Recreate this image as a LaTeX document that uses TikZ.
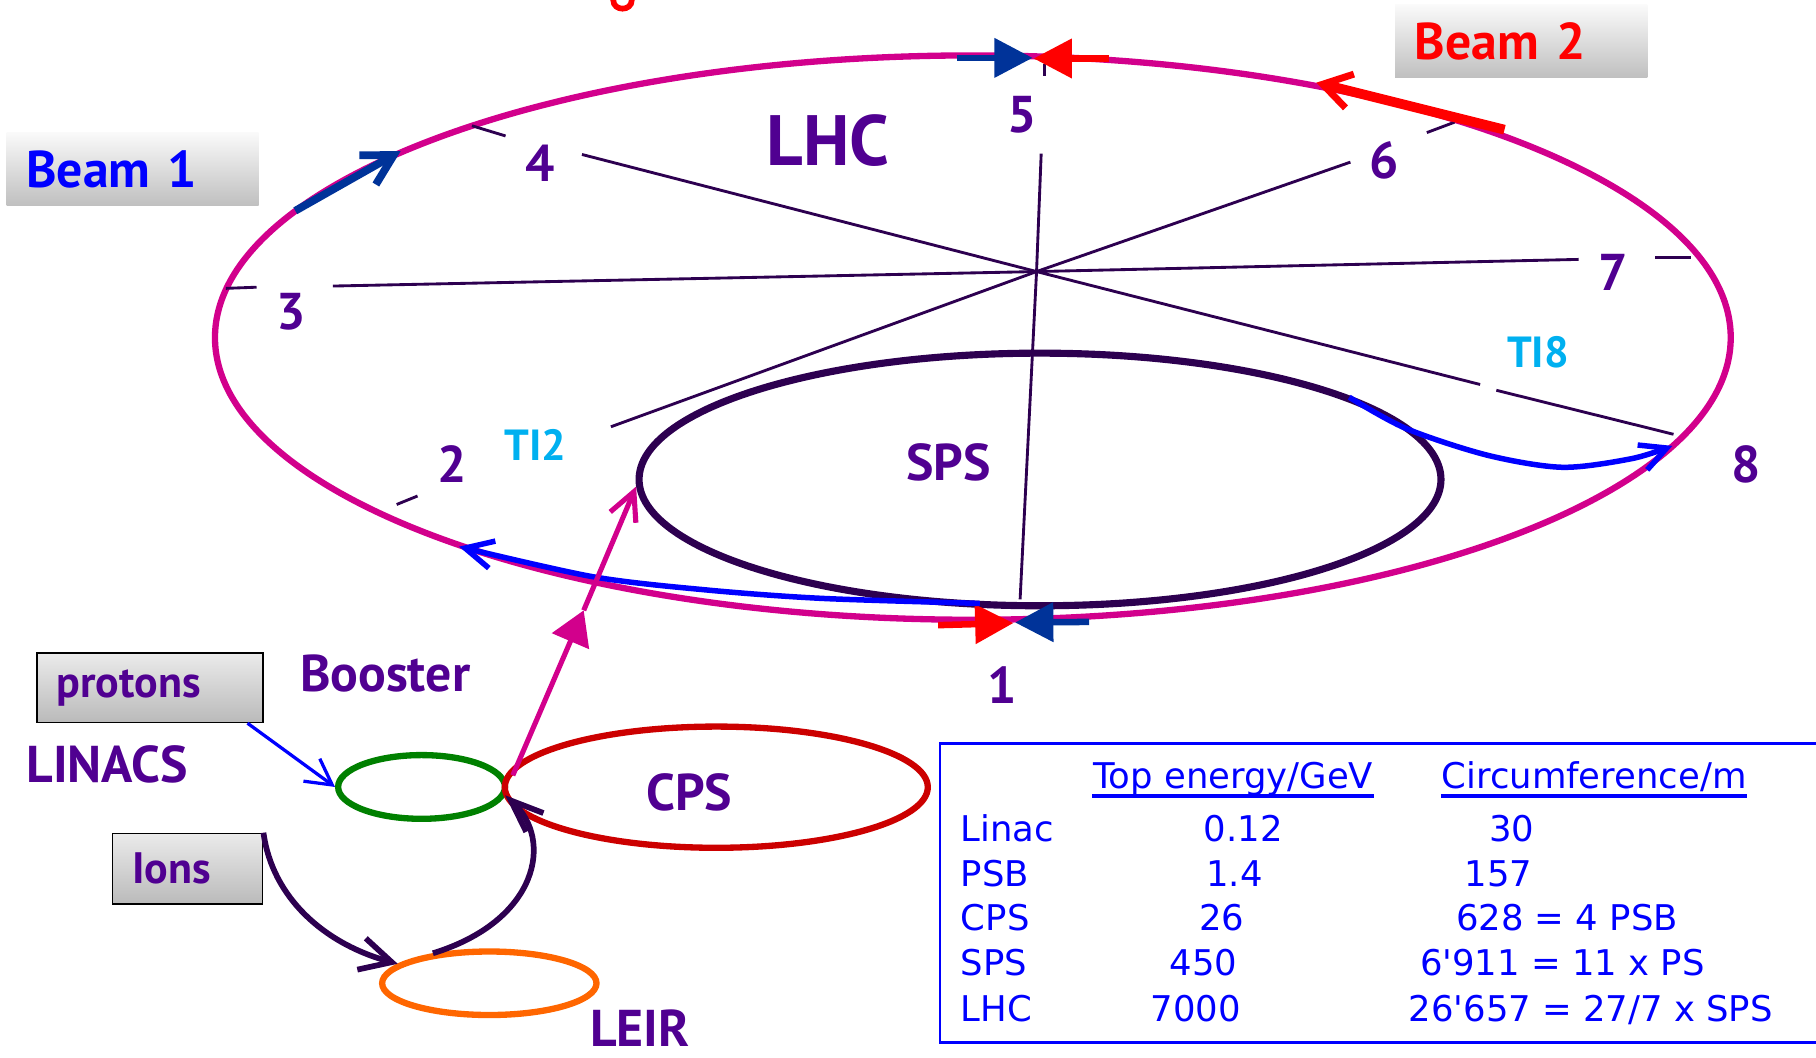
\documentclass[tikz,border=0pt]{standalone}
\usepackage{fontspec}
\setmainfont{PT Sans}
\newfontfamily\tabfont{DejaVu Sans}
\usetikzlibrary{arrows.meta,shapes.geometric}

\definecolor{lhcmag}{RGB}{210,0,140}
\definecolor{ringdark}{RGB}{45,0,80}
\definecolor{lblpurple}{RGB}{80,0,145}
\definecolor{beamblue}{RGB}{0,51,153}
\definecolor{tiblue}{RGB}{0,0,255}
\definecolor{ticyan}{RGB}{0,176,240}
\definecolor{boostgreen}{RGB}{0,128,0}
\definecolor{cpsred}{RGB}{204,0,0}
\definecolor{leirorange}{RGB}{255,102,0}

\tikzset{
  ring/.style={ellipse, draw, inner sep=0pt, line width=1.55pt},
  spoke/.style={draw=ringdark, line width=0.7pt},
  ptlabel/.style={text=lblpurple, inner sep=0pt, font=\bfseries\fontsize{12.7}{15}\selectfont},
  lhctext/.style={text=lblpurple, inner sep=0pt, font=\bfseries\fontsize{17.5}{20}\selectfont},
  tilabel/.style={text=ticyan, inner sep=0pt, font=\bfseries\fontsize{10.7}{13}\selectfont},
  beambox/.style={anchor=north west, align=left, inner xsep=0.17cm, inner ysep=0pt,
    top color=black!2, bottom color=black!25, font=\bfseries\fontsize{12.7}{15}\selectfont},
  srcbox/.style={anchor=north west, align=left, inner xsep=0.17cm, inner ysep=0pt,
    draw=black, line width=0.4pt, top color=black!8, bottom color=black!27,
    text=lblpurple, font=\bfseries\fontsize{10.8}{13}\selectfont},
  tabtext/.style={text=tiblue, inner sep=0pt, font=\tabfont\fontsize{8.7}{10}\selectfont},
  barb/.style={-{Straight Barb[length=2.4mm,width=2.4mm]}},
  tri/.style={-{Triangle[length=3.3mm,width=3.3mm]}, line width=1.6pt}
}

\begin{document}
\begin{tikzpicture}[x=0.01cm,y=-0.01cm]
  \useasboundingbox (0,0) rectangle (1568,913.5);

  % Title fragment at the top edge
  \draw [red, line width=1.4pt] (529.5,-6) -- (529.5,0) .. controls (529.5,10) and (545.5,10) .. (545.5,0) -- (545.5,-6);

  % Rings
  \node [ring, draw=lhcmag, minimum width=13.08cm, minimum height=4.87cm] (lhc) at (840,291.5) {};
  \node [ring, draw=ringdark, line width=1.75pt, minimum width=6.92cm, minimum height=2.18cm] (sps) at (898,414) {};
  \node [ring, draw=boostgreen, minimum width=1.44cm, minimum height=0.55cm] (booster) at (364,679.5) {};
  \node [ring, draw=cpsred, minimum width=3.65cm, minimum height=1.046cm] (cps) at (618.5,679.7) {};
  \node [ring, draw=leirorange, minimum width=1.85cm, minimum height=0.548cm] (leir) at (422.5,849) {};

  % Spokes from the hub to the eight points
  \coordinate (hub) at (895,234.5);
  \draw [spoke] (hub) -- (880.8,517.5);% point 1
  \draw [spoke] (hub) -- (527.5,368.5);% point 2
  \draw [spoke] (342.5,435.6) -- (360.5,428.3);%
  \draw [spoke] (hub) -- (287.5,247);% point 3
  \draw [spoke] (195,249) -- (221.5,248);%
  \draw [spoke] (hub) -- (502.5,133.4);% point 4
  \draw [spoke] (407.5,108.6) -- (436.5,117.4);%
  \draw [spoke] (hub) -- (899,132.6);% point 5
  \draw [spoke] (902,55) -- (902,66);%
  \draw [spoke] (hub) -- (1166,140);% point 6
  \draw [spoke] (1232,114.5) -- (1256,105.5);%
  \draw [spoke] (hub) -- (1363,224);% point 7
  \draw [spoke] (1429,222) -- (1460,222);%
  \draw [spoke] (hub) -- (1278,332);% point 8
  \draw [spoke] (1292,337) -- (1445,375);%

  % Point labels
  \node [ptlabel] (pone) at (865,591.5) {1};
  \node [ptlabel] (ptwo) at (390,400.6) {2};
  \node [ptlabel] (pthree) at (251,269.5) {3};
  \node [ptlabel] (pfour) at (466,141) {4};
  \node [ptlabel] (pfive) at (882.5,99) {5};
  \node [ptlabel] (psix) at (1195,138.5) {6};
  \node [ptlabel] (pseven) at (1392.6,235.4) {7};
  \node [ptlabel] (peight) at (1508,400.6) {8};

  % Ring names
  \node [lhctext] (lhclabel) at (715,121) {LHC};
  \node [ptlabel] (spslabel) at (819,399.5) {SPS};
  \node [tilabel] (titwo) at (462.5,384.5) {TI2};
  \node [tilabel] (tieight) at (1328,304.5) {TI8};
  \node [ptlabel, anchor=base] (boosterlabel) at (332.5,597.2) {Booster};
  \node [ptlabel, anchor=base] (cpslabel) at (595,700) {CPS};
  \node [ptlabel, anchor=base] (linacs) at (92.5,675.3) {LINACS};
  \node [ptlabel, anchor=base] (leirlabel) at (552.5,904) {LEIR};

  % Beam boxes
  \node [beambox, text=tiblue, text width=1.835cm, minimum height=0.634cm] (beamone) at (5,113.6) {Beam 1};
  \node [beambox, text=red, text width=1.836cm, minimum height=0.63cm] (beamtwo) at (1204,3.5) {Beam 2};

  % Source boxes
  \node [srcbox, text width=1.61cm, minimum height=0.6cm] (protons) at (31,563) {protons};
  \node [srcbox, text width=0.955cm, minimum height=0.61cm] (ions) at (96.5,719) {Ions};

  % Beam 1 and Beam 2 arrows on the ring
  \coordinate (bonetail) at (255,182);
  \coordinate (bonetip) at (346,130.5);
  \draw [beamblue, line width=1.9pt, -{Straight Barb[length=2.6mm,width=2.9mm]}] (bonetail) -- (bonetip);
  \coordinate (btwotail) at (1299,112);
  \coordinate (btwotip) at (1136.6,71.4);
  \draw [red, line width=2.4pt, -{Straight Barb[length=2.4mm,width=3mm,line width=1.7pt]}] (btwotail) -- (btwotip);

  % Crossing at point 5
  \draw [beamblue, tri] (826.5,50) -- (891.6,50);
  \draw [red, tri] (957.7,50.5) -- (892.5,50.5);

  % Crossing at point 1
  \draw [red, tri] (810,539.8) -- (875,538);
  \draw [beamblue, tri] (940.4,537) -- (876.5,537.5);

  % Transfer lines TI2 and TI8
  \draw [tiblue, line width=1.35pt, barb] plot [smooth] coordinates {(846,521) (710,516.7) (611,509.5) (512,498) (396.4,472)};
  \draw [tiblue, line width=1.35pt, -{Straight Barb[length=2.25mm,width=2.3mm]}] plot [smooth] coordinates {(1165,343) (1214,370) (1284,393) (1349,403.5) (1409,396) (1444,385)};

  % Injection from the PS into the SPS
  \coordinate (injmid) at (504,527);
  \draw [lhcmag, line width=1.25pt, -{Triangle[length=2.9mm,width=3.4mm]}] ([shift={(4,-10)}]booster.east) -- (injmid);
  \draw [lhcmag, line width=1.25pt, barb] (injmid) -- (sps.181);

  % Protons and ions
  \draw [tiblue, line width=0.8pt, -{Straight Barb[length=2.2mm,width=2.4mm]}] (protons.-20) -- (booster.west);
  \draw [ringdark, line width=1.4pt, -{Straight Barb[length=2.7mm,width=2.8mm]}] (ions.north east) .. controls (235,775) and (280,815) .. (leir.168);
  \draw [ringdark, line width=1.4pt, -{Straight Barb[length=2.8mm,width=2.2mm]}] (leir.152) .. controls (465,795) and (478,725) .. ([shift={(3,7)}]cps.west);

  % Table of energies and circumferences
  \draw [tiblue, line width=0.6pt] (811.6,642) rectangle (1600,900);
  \node [tabtext, anchor=base] (hdrenergy) at (1064.75,681) {Top energy/GeV};
  \node [tabtext, anchor=base] (hdrcirc) at (1376.4,681) {Circumference/m};
  \draw [tiblue, line width=0.85pt] ([yshift=-1.8pt]hdrenergy.base west) -- ([yshift=-1.8pt]hdrenergy.base east);
  \draw [tiblue, line width=0.85pt] ([yshift=-1.8pt]hdrcirc.base west) -- ([yshift=-1.8pt]hdrcirc.base east);

  \node [tabtext, anchor=base west] (rlinac) at (829,727) {Linac};
  \node [tabtext, anchor=base west] (rpsb) at (829,765.6) {PSB};
  \node [tabtext, anchor=base west] (rcps) at (829,803.7) {CPS};
  \node [tabtext, anchor=base west] (rsps) at (829,842.7) {SPS};
  \node [tabtext, anchor=base west] (rlhc) at (829,881.7) {LHC};

  \node [tabtext, anchor=base] (elinac) at (1073.5,727) {0.12};
  \node [tabtext, anchor=base] (epsb) at (1066,765.6) {1.4};
  \node [tabtext, anchor=base] (ecps) at (1055,803.7) {26};
  \node [tabtext, anchor=base] (esps) at (1039,842.7) {450};
  \node [tabtext, anchor=base] (elhc) at (1032.5,881.7) {7000};

  \node [tabtext, anchor=base] (clinac) at (1305.5,727) {30};
  \node [tabtext, anchor=base] (cpsb) at (1294,765.6) {157};
  \node [tabtext, anchor=base] (ccps) at (1353,803.7) {628 = 4 PSB};
  \node [tabtext, anchor=base] (csps) at (1349,842.7) {6'911 = 11 x PS};
  \node [tabtext, anchor=base] (clhc) at (1373.6,881.7) {26'657 = 27/7 x SPS};
\end{tikzpicture}
\end{document}
